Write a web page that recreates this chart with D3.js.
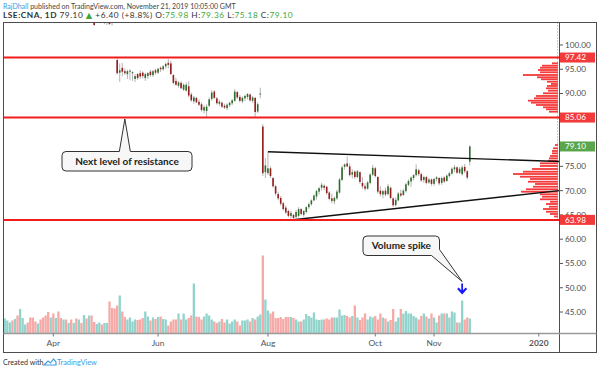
<!DOCTYPE html>
<html>
<head>
<meta charset="utf-8">
<script src="https://cdn.jsdelivr.net/npm/d3@7"></script>
<style>
  body { margin: 0; background: #fff; }
  svg { display: block; font-family: Lato, "DejaVu Sans", sans-serif; }
</style>
</head>
<body>
<div id="chart"></div>
<script>
// ---- data ----
var startDay = '2019-03-04';
var endDay = '2020-01-10';
var holidays = ['2019-04-19', '2019-04-22', '2019-05-06', '2019-05-27', '2019-08-26',
                '2019-12-25', '2019-12-26', '2020-01-01'];

var tickDates = ['2019-04-01', '2019-06-03', '2019-08-01', '2019-10-01', '2019-11-01', '2020-01-02'];
var tickLabels = ['Apr', 'Jun', 'Aug', 'Oct', 'Nov', '2020'];
var priceTicks = [45, 50, 55, 60, 65, 70, 75, 90, 95, 100];

var open = [
  107.6,109.0,110.0,110.8,111.4,110.1,111.0,109.4,111.6,112.2,
  112.5,111.4,110.0,108.9,108.1,108.8,107.4,106.5,105.8,105.3,
  106.4,105.7,107.0,106.0,105.5,106.7,106.1,107.0,106.4,107.6,
  106.9,107.9,107.1,108.2,106.6,107.2,105.5,104.8,105.9,106.8,
  105.0,105.6,106.2,104.9,104.8,96.9,94.3,95.3,94.6,94.0,
  94.5,94.2,93.0,94.0,94.2,94.3,93.2,93.6,94.5,93.8,
  94.8,94.3,95.3,95.0,95.6,96.3,96.2,93.8,92.6,91.6,
  92.2,90.8,90.6,91.5,89.8,88.4,89.1,88.3,87.8,86.5,
  86.4,87.5,88.9,90.4,89.0,87.9,88.1,87.5,87.0,87.6,
  88.0,88.5,90.3,89.3,88.4,89.0,89.3,89.8,88.5,89.1,
  86.3,89.8,83.2,73.8,73.6,74.6,72.6,70.9,69.3,68.5,
  67.4,66.5,65.8,64.8,65.0,64.6,64.8,66.2,65.0,65.6,
  66.6,67.2,68.0,68.8,69.8,70.6,71.0,70.8,69.6,68.4,
  67.8,68.4,69.6,72.2,74.9,75.6,75.0,73.3,73.9,72.8,
  73.8,71.6,70.9,70.4,71.6,73.3,74.6,72.8,70.0,69.2,
  70.0,69.3,70.6,68.4,67.0,68.0,69.4,69.1,69.9,71.2,
  71.9,72.6,73.2,74.2,73.4,72.2,72.8,71.7,72.3,71.4,
  72.4,72.6,71.6,72.7,72.0,73.0,73.5,74.4,74.8,73.7,
  73.4,74.9,74.0,75.98
];
var high = [
  109.5,110.4,111.2,111.6,111.8,111.5,111.3,112.0,112.6,112.9,
  112.8,111.7,110.4,109.3,109.2,109.0,107.8,106.9,106.2,106.8,
  106.7,107.2,107.3,106.3,106.9,107.0,107.4,107.3,107.8,107.9,
  108.1,108.2,108.6,108.5,107.6,107.4,105.8,106.2,107.0,107.1,
  106.4,106.8,106.5,105.4,105.2,97.4,96.2,96.3,95.2,94.9,
  95.0,94.6,94.0,94.2,94.8,94.6,94.3,94.4,94.9,94.9,
  95.1,95.3,95.6,95.9,96.4,97.1,96.8,94.0,93.2,92.6,
  92.6,92.1,92.3,92.5,90.2,89.5,89.3,88.8,88.2,87.6,
  87.8,89.2,90.7,90.7,89.3,88.7,88.4,87.9,88.0,88.3,
  88.9,90.9,90.5,89.7,89.4,89.8,90.1,90.0,89.5,89.3,
  88.2,91.2,83.7,76.7,78.0,75.0,72.8,71.2,69.8,68.9,
  67.7,66.9,66.1,65.8,65.2,66.0,66.6,66.4,66.0,66.8,
  67.5,68.2,69.2,70.2,70.8,71.6,71.3,71.0,69.9,69.4,
  68.8,70.2,72.6,75.2,75.6,77.0,75.6,74.4,74.2,74.3,
  74.0,72.8,71.5,72.0,73.6,75.3,74.9,73.0,70.9,70.2,
  70.6,71.4,70.8,68.6,68.6,69.7,70.2,70.3,71.6,72.3,
  72.9,73.4,75.4,74.5,73.7,73.1,73.0,72.6,72.5,72.7,
  73.0,72.8,72.9,73.0,73.3,73.9,74.8,75.3,75.0,74.9,
  75.2,75.5,74.2,79.36
];
var low = [
  107.2,108.6,109.5,110.2,109.9,109.8,108.9,109.0,111.1,111.8,
  111.2,109.8,108.6,107.7,107.8,107.2,106.1,105.2,104.9,105.0,
  105.3,105.4,105.8,105.1,105.2,105.7,105.8,106.0,106.1,106.5,
  106.6,106.7,106.9,106.4,106.2,105.2,104.0,104.7,105.6,105.3,
  104.3,104.1,104.2,104.0,104.6,93.9,92.4,93.5,93.8,93.0,
  92.8,92.6,92.4,92.8,93.0,93.1,92.6,93.0,93.5,93.4,
  93.9,94.0,94.4,94.7,95.1,95.2,93.9,91.9,91.6,91.2,
  90.9,90.5,90.4,89.2,88.3,87.9,88.0,87.4,86.3,85.9,
  85.1,87.2,88.5,88.9,87.7,87.4,87.0,86.8,86.6,87.2,
  87.6,88.3,88.9,88.2,88.0,88.4,88.8,88.3,88.1,85.2,
  86.0,89.0,73.0,72.6,73.2,72.6,70.6,69.0,68.0,66.9,
  65.9,65.2,64.5,64.2,63.98,64.3,64.5,64.9,64.6,65.3,
  66.2,66.9,67.8,68.2,69.2,70.0,70.1,69.2,68.0,67.4,
  67.2,68.1,69.4,72.0,74.3,74.8,72.9,72.5,72.4,72.6,
  71.4,70.4,70.0,70.2,71.3,73.0,72.7,69.4,68.8,68.4,
  68.8,69.0,68.2,66.6,66.8,67.8,68.7,68.9,69.6,70.9,
  70.8,72.1,72.9,73.0,71.8,71.6,71.3,71.4,71.0,71.0,
  71.9,71.1,71.2,71.6,71.8,72.7,73.3,73.8,73.4,73.4,
  73.1,73.6,72.3,75.18
];
var close = [
  109.2,110.1,110.9,111.3,110.2,111.2,109.3,111.7,112.3,112.6,
  111.5,110.1,108.9,108.0,108.9,107.5,106.4,105.6,105.2,106.5,
  105.6,106.9,106.1,105.4,106.6,106.0,107.1,106.3,107.5,106.8,
  107.8,107.0,108.3,106.7,107.3,105.6,104.1,105.9,106.8,105.6,
  106.1,106.3,104.3,104.6,104.7,94.2,94.8,94.5,94.2,94.6,
  94.7,94.4,93.6,93.2,93.5,93.6,94.0,94.2,93.8,94.6,
  94.3,95.1,95.0,95.6,96.1,95.9,94.0,92.2,91.8,92.3,
  91.1,91.8,91.8,89.6,88.6,89.2,88.2,87.7,86.6,87.2,
  87.3,88.8,90.2,89.1,88.0,88.3,87.3,87.1,87.7,88.1,
  88.6,90.4,89.2,88.5,89.1,89.5,89.9,88.6,89.2,86.2,
  87.8,90.0,73.6,75.2,74.6,73.0,70.9,69.4,68.4,67.3,
  66.2,65.5,64.8,65.4,64.4,65.6,66.2,65.2,65.8,66.6,
  67.2,68.0,69.0,69.9,70.5,71.2,70.6,69.5,68.3,67.9,
  68.5,69.8,72.3,74.8,75.4,75.0,73.2,73.8,72.8,74.0,
  71.8,70.9,70.4,71.7,73.3,74.7,73.0,69.8,69.3,69.9,
  69.2,70.9,68.5,67.0,68.1,69.4,69.0,70.0,71.3,72.0,
  72.7,73.2,74.4,73.4,72.1,72.8,71.6,72.3,71.4,72.4,
  72.7,71.5,72.6,71.9,73.1,73.6,74.5,74.8,73.7,74.5,
  74.8,74.0,72.7,79.10
];
// volume, millions of shares
var volume = [
  27,29,25,21,25,28,35,48,30,17, 21,31,31,23,19,27,31,35,42,31,
  39,30,43,30,27,27,20,27,20,29, 27,20,36,29,35,35,22,18,21,17,
  20,20,63,50,49,55,75,43,32,27, 31,23,27,26,27,30,43,33,25,31,
  28,32,33,28,27,15,23,27,27,39, 27,39,27,30,35,99,33,32,27,33,
  39,35,27,23,20,23,28,21,27,19, 23,27,23,15,25,25,27,23,30,27,
  33,37,155,67,45,39,43,30,30,32, 28,32,32,32,30,27,
  23,23,27,38,34,31,41,27,26,27, 27,29,27,31,31,31,47,35,36,34,
  31,34,55,31,26,31,39,27,33,31, 34,27,39,31,29,23,26,48,23,31,
  48,39,44,39,39,34,31,27,34,39, 33,29,39,31,21,35,39,39,39,31,
  43,41,21,21,65,27,31,29
];

var levels = [97.42, 85.06, 63.98];
var lastPrice = 79.10;

// fixed range volume profiles (row price, relative volume)
var profileHighPrice = [96.23,95.74,95.32,94.85,94.38,93.82,93.35,92.94,92.44,91.97,91.56,
                        91.08,90.59,90.05,89.50,89.02,88.53,88.12,87.64,87.17,86.76,86.26];
var profileHighVol = [6,16,18,20,18,35,21,17,11,7,11,12,10,15,22,24,30,27,22,15,12,9];
var profileLowPrice = [79.40,78.72,78.17,77.69,77.14,76.66,76.17,75.63,75.08,74.46,73.90,73.43,
                       72.87,72.40,71.84,71.37,70.81,70.28,69.78,69.25,68.75,68.22,67.72,67.25,
                       66.69,66.22,65.66,65.19,64.68];
var profileLowVol = [3,5,6,6,8,9,10,18,18,26,35,45,38,28,30,23,25,32,37,18,16,18,8,12,9,15,12,8,4];

// trend lines: [bar, price]
var triangleTop = [[104, 78.0], [218, 76.0]];
var triangleBottom = [[114, 64.0], [218, 70.0]];

// ---- scales ----
var fmt = d3.timeFormat('%Y-%m-%d');
var parse = d3.timeParse('%Y-%m-%d');
var days = d3.timeDay.range(parse(startDay), parse(endDay))
  .filter(function(d){ return d.getDay() % 6 !== 0 && holidays.indexOf(fmt(d)) < 0; })
  .map(fmt);

var chart_width = 600, chart_height = 372;
var plotLeft = 3.5, plotRight = 559.5, plotTop = 22.5, plotBottom = 333.5;
var frameRight = 596.5, frameBottom = 352.5;

var x = d3.scaleLinear().domain([0, 210]).range([2.2, 538.8]);
var y = d3.scaleLinear().domain([40.68, 104.53]).range([333, 23]);
var yVol = d3.scaleLinear().domain([0, 160]).range([333, 253]);
var profW = d3.scaleLinear().domain([0, 45]).range([0, 45]);
var step = x(1) - x(0);

var svg = d3.select('#chart').append('svg')
  .attr('width', chart_width).attr('height', chart_height);

svg.append('rect').attr('width', chart_width).attr('height', chart_height).attr('fill', '#fff');

svg.append('clipPath').attr('id', 'plot')
  .append('rect')
  .attr('x', plotLeft).attr('y', plotTop)
  .attr('width', plotRight - plotLeft).attr('height', plotBottom - plotTop);

var g = svg.append('g').attr('clip-path', 'url(#plot)');

// volume
g.selectAll('rect.vol')
  .data(volume)
  .enter()
  .append('rect')
  .attr('x', function(d, i){ return x(i) - step * 0.45; })
  .attr('y', function(d){ return yVol(d); })
  .attr('width', step * 0.9)
  .attr('height', function(d){ return yVol(0) - yVol(d); })
  .attr('fill', function(d, i){ return close[i] >= open[i] ? '#92d3cc' : '#f6a9a6'; });

// volume profiles
function profile(prices, vols){
  g.selectAll(null)
    .data(prices)
    .enter()
    .append('rect')
    .attr('x', function(d, i){ return 558 - profW(vols[i]); })
    .attr('y', function(d){ return y(d) - 0.9; })
    .attr('width', function(d, i){ return profW(vols[i]); })
    .attr('height', 1.8)
    .attr('fill', '#f43a3a');
}
profile(profileHighPrice, profileHighVol);
profile(profileLowPrice, profileLowVol);

g.append('line')
  .attr('x1', 557.5).attr('x2', 557.5).attr('y1', plotTop).attr('y2', y(63.98))
  .attr('stroke', '#f66').attr('stroke-dasharray', '1,2');

// candles
var candles = g.selectAll('g.candle')
  .data(close)
  .enter()
  .append('g');

candles.append('line')
  .attr('x1', function(d, i){ return x(i); })
  .attr('x2', function(d, i){ return x(i); })
  .attr('y1', function(d, i){ return y(high[i]); })
  .attr('y2', function(d, i){ return y(low[i]); })
  .attr('stroke', '#b4b4b4')
  .attr('stroke-width', 1);

candles.append('rect')
  .attr('x', function(d, i){ return x(i) - 0.8; })
  .attr('y', function(d, i){ return y(Math.max(open[i], close[i])); })
  .attr('width', 1.6)
  .attr('height', function(d, i){ return Math.max(1, Math.abs(y(open[i]) - y(close[i]))); })
  .attr('fill', function(d, i){ return close[i] >= open[i] ? '#2c6e2c' : '#951c1c'; });

// triangle
var line = d3.line()
  .x(function(d){ return x(d[0]); })
  .y(function(d){ return y(d[1]); });
[triangleTop, triangleBottom].forEach(function(t){
  g.append('path').attr('d', line(t)).attr('fill', 'none')
   .attr('stroke', '#111').attr('stroke-width', 1.4);
});

// horizontal levels
g.selectAll('line.level')
  .data(levels)
  .enter()
  .append('line')
  .attr('x1', plotLeft).attr('x2', plotRight)
  .attr('y1', function(d){ return y(d); })
  .attr('y2', function(d){ return y(d); })
  .attr('stroke', '#f21c1c')
  .attr('stroke-width', 2);

// frame
svg.append('rect')
  .attr('x', plotLeft).attr('y', plotTop)
  .attr('width', frameRight - plotLeft).attr('height', frameBottom - plotTop)
  .attr('fill', 'none').attr('stroke', '#4d4d4d');
svg.append('line').attr('x1', plotRight).attr('x2', plotRight).attr('y1', plotTop).attr('y2', frameBottom)
  .attr('stroke', '#4d4d4d');
svg.append('line').attr('x1', plotLeft).attr('x2', frameRight).attr('y1', plotBottom).attr('y2', plotBottom)
  .attr('stroke', '#9a9a9a').attr('stroke-width', 1.5);

// price axis
var ticks = svg.selectAll('g.ptick')
  .data(priceTicks)
  .enter()
  .append('g')
  .attr('transform', function(d){ return 'translate(0,' + y(d) + ')'; });
ticks.append('line').attr('x1', plotRight).attr('x2', plotRight + 3.5).attr('stroke', '#555');
ticks.append('text')
  .attr('x', 565).attr('dy', '0.35em')
  .attr('font-size', 8.2).attr('fill', '#4a4a4a')
  .text(function(d){ return d.toFixed(2); });

// price labels
var tags = levels.map(function(d){ return {v: d, c: '#f23a3a'}; });
tags.push({v: lastPrice, c: '#5aa64c'});
var tag = svg.selectAll('g.tag')
  .data(tags)
  .enter()
  .append('g')
  .attr('transform', function(d){ return 'translate(0,' + y(d.v) + ')'; });
tag.append('rect')
  .attr('x', plotRight + 0.5).attr('y', -5).attr('width', 35).attr('height', 10)
  .attr('fill', function(d){ return d.c; });
tag.append('text')
  .attr('x', 565).attr('dy', '0.35em')
  .attr('font-size', 8.2).attr('fill', '#fff')
  .text(function(d){ return d.v.toFixed(2); });

// time axis
var tx = svg.selectAll('g.ttick')
  .data(tickDates)
  .enter()
  .append('g')
  .attr('transform', function(d){ return 'translate(' + x(days.indexOf(d)) + ',0)'; });
tx.append('line').attr('y1', plotBottom).attr('y2', plotBottom + 3).attr('stroke', '#777');
tx.append('text')
  .attr('y', 346).attr('text-anchor', 'middle')
  .attr('font-size', 8.4).attr('fill', '#555')
  .attr('font-weight', function(d, i){ return tickLabels[i] === '2020' ? 'bold' : 'normal'; })
  .text(function(d, i){ return tickLabels[i]; });

// callouts
function callout(bx, by, bw, bh, pts, label){
  var r = 4;
  svg.append('path')
    .attr('d', pts(bx, by, bw, bh, r))
    .attr('fill', '#f7f7f7').attr('stroke', '#333').attr('stroke-width', 1);
  svg.append('text')
    .attr('x', bx + bw / 2).attr('y', by + bh / 2).attr('dy', '0.36em')
    .attr('text-anchor', 'middle').attr('font-size', 10).attr('font-weight', 'bold')
    .attr('fill', '#222').text(label);
}

callout(62, 151.5, 130, 19.5, function(bx, by, bw, bh, r){
  var tip = [x(days.indexOf('2019-05-14')), y(85.06) + 1.5];
  return 'M' + (bx + r) + ',' + by +
    'L' + (tip[0] - 5.5) + ',' + by + 'L' + tip[0] + ',' + tip[1] + 'L' + (tip[0] + 5.5) + ',' + by +
    'L' + (bx + bw - r) + ',' + by + 'A' + r + ',' + r + ' 0 0 1 ' + (bx + bw) + ',' + (by + r) +
    'L' + (bx + bw) + ',' + (by + bh - r) + 'A' + r + ',' + r + ' 0 0 1 ' + (bx + bw - r) + ',' + (by + bh) +
    'L' + (bx + r) + ',' + (by + bh) + 'A' + r + ',' + r + ' 0 0 1 ' + bx + ',' + (by + bh - r) +
    'L' + bx + ',' + (by + r) + 'A' + r + ',' + r + ' 0 0 1 ' + (bx + r) + ',' + by + 'Z';
}, 'Next level of resistance');

var spikeBar = 180;
callout(363, 236, 76.5, 19.5, function(bx, by, bw, bh, r){
  var tip = [x(spikeBar), yVol(volume[spikeBar]) - 19];
  return 'M' + (bx + r) + ',' + by +
    'L' + (bx + bw - r) + ',' + by + 'A' + r + ',' + r + ' 0 0 1 ' + (bx + bw) + ',' + (by + r) +
    'L' + (bx + bw) + ',' + (by + bh - 6) + 'L' + tip[0] + ',' + tip[1] +
    'L' + (bx + bw - 8) + ',' + (by + bh) +
    'L' + (bx + r) + ',' + (by + bh) + 'A' + r + ',' + r + ' 0 0 1 ' + bx + ',' + (by + bh - r) +
    'L' + bx + ',' + (by + r) + 'A' + r + ',' + r + ' 0 0 1 ' + (bx + r) + ',' + by + 'Z';
}, 'Volume spike');

// blue arrow over the spike
var ax = x(spikeBar), ay = yVol(volume[spikeBar]) - 6;
svg.append('path')
  .attr('d', 'M' + ax + ',' + ay + 'l-5,-5.5l1.5,-1.5l2.6,2.7v-6.6h1.8v6.6l2.6,-2.7l1.5,1.5z')
  .attr('fill', '#1a1aff');

// header
var h1 = svg.append('text').attr('x', 3).attr('y', 8.5).attr('font-size', 7).attr('fill', '#444');
h1.append('tspan').attr('fill', '#3b9be0').text('RajDhall');
h1.append('tspan').text(' published on TradingView.com, November 21, 2019 10:05:00 GMT');

var h2 = svg.append('text').attr('x', 3).attr('y', 18).attr('font-size', 8.3)
  .attr('letter-spacing', 0.5).attr('fill', '#333');
h2.append('tspan').attr('font-weight', 'bold').text('LSE:CNA, 1D ');
h2.append('tspan').text(lastPrice.toFixed(2) + ' ');
h2.append('tspan').attr('fill', '#3ea83e').text('\u25B2');
h2.append('tspan').text(' +6.40 (+8.8%) O:');
h2.append('tspan').attr('fill', '#3ea83e').text(open[183].toFixed(2));
h2.append('tspan').text(' H:');
h2.append('tspan').attr('fill', '#3ea83e').text(high[183].toFixed(2));
h2.append('tspan').text(' L:');
h2.append('tspan').attr('fill', '#3ea83e').text(low[183].toFixed(2));
h2.append('tspan').text(' C:');
h2.append('tspan').attr('fill', '#3ea83e').text(close[183].toFixed(2));

// footer
svg.append('text').attr('x', 3).attr('y', 365).attr('font-size', 7.2).attr('fill', '#333')
  .text('Created with');
svg.append('path')
  .attr('d', 'M44,365 l4,-4 l2.5,2 l3,-4 l2.5,3 l0,3 z')
  .attr('fill', 'none').attr('stroke', '#3ea0e0').attr('stroke-width', 1.2);
svg.append('text').attr('x', 57).attr('y', 365).attr('font-size', 7.4).attr('fill', '#3ea0e0')
  .text('TradingView');
</script>
</body>
</html>
